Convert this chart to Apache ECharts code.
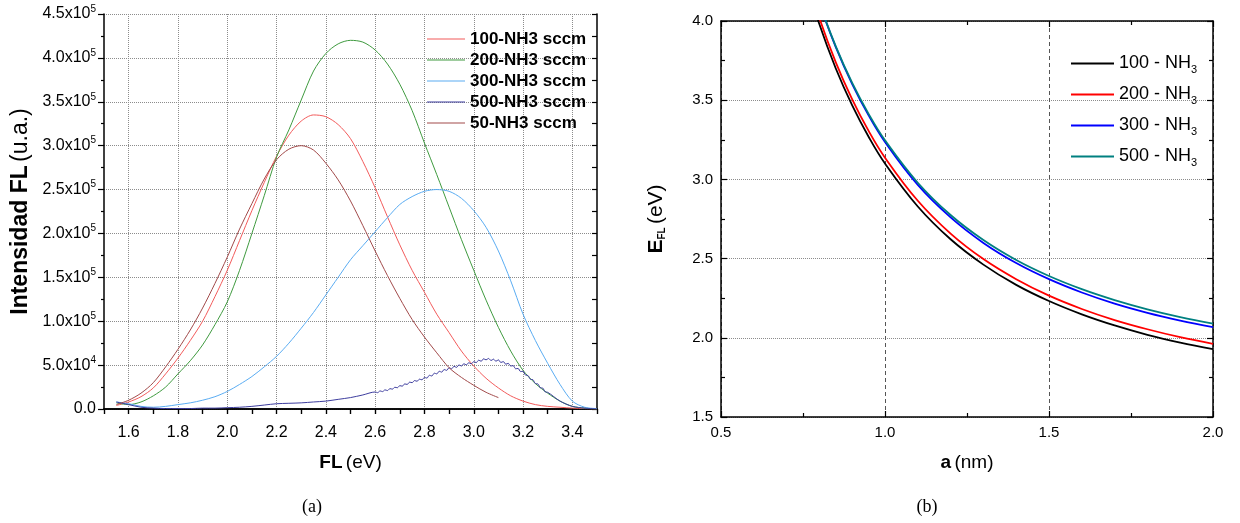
<!DOCTYPE html>
<html><head><meta charset="utf-8">
<script src="https://cdn.jsdelivr.net/npm/echarts@6/dist/echarts.min.js"></script>
<style>html,body{margin:0;padding:0;background:#fff}#c{width:1240px;height:523px}</style>
</head><body><div id="c"></div>
<script>
// ---------- (a) photoluminescence, intensity in units of 1e3 (u.a.) ----------
const flX = [1.55,1.60,1.65,1.70,1.75,1.80,1.85,1.90,1.95,2.00,2.05,2.10,2.15,2.20,2.25,2.30,2.35,2.40,2.45,2.50,2.55,2.60,2.65,2.70,2.75,2.80,2.85,2.90,2.95,3.00,3.05,3.10,3.15,3.20,3.25,3.30,3.35,3.40,3.45,3.50];
const fl100 = [4,8,14,24,40,58,78,100,128,158,192,226,258,288,312,328,335,333,324,308,282,252,219,187,158,133,108,87,66,49,35,24,15,9,5,3,2,1,0.5,0];
const fl200 = [7,5,8,15,25,40,55,73,96,122,158,200,243,287,318,352,385,405,416,420,418,409,393,370,340,303,267,230,193,158,124,93,66,44,29,18,9,3,1,0];
const fl300 = [8,6,3,2,3,5,7,10,14,20,28,37,48,60,75,92,110,130,150,170,186,202,218,233,242,248,250,248,240,226,207,180,146,108,78,52,28,9,2,0.5];
const fl50  = [5,10,18,30,48,68,90,115,143,173,205,234,262,284,296,300,295,280,261,237,209,180,152,126,102,82,64,47,36,27,19,13,null,null,null,null,null,null,null,null];
const fl500X = [1.55,1.60,1.65,1.70,1.75,1.80,1.85,1.90,1.95,2.00,2.05,2.10,2.15,2.20,2.25,2.30,2.35,2.40,2.45,2.50,2.55,
  2.60,2.61,2.62,2.63,2.64,2.65,2.66,2.67,2.68,2.69,2.70,2.71,2.72,2.73,2.74,2.75,2.76,2.77,2.78,2.79,
  2.80,2.81,2.82,2.83,2.84,2.85,2.86,2.87,2.88,2.89,2.90,2.91,2.92,2.93,2.94,2.95,2.96,2.97,2.98,2.99,
  3.00,3.01,3.02,3.03,3.04,3.05,3.06,3.07,3.08,3.09,3.10,3.11,3.12,3.13,3.14,3.15,3.16,3.17,3.18,3.19,
  3.20,3.21,3.22,3.23,3.24,3.25,3.26,3.27,3.28,3.29,3.30,3.35,3.40,3.45,3.50];
const fl500Y = [8,5,2,1,0.5,0.5,0.5,1,1,1.5,2,3,4.5,6,6.5,7,8,9,11,13,16,
  19.4,18.6,20.6,19.8,21.8,21.0,23.2,22.6,24.8,24.2,26.6,26.0,28.6,28.0,30.6,30.0,32.4,31.6,34.0,33.2,
  36.0,35.2,38.4,37.6,40.8,40.0,43.0,42.0,45.0,44.0,47.0,45.8,48.6,47.4,50.2,49.0,51.6,50.2,52.8,51.4,
  54.0,52.8,55.6,54.4,57.2,56.0,57.6,55.2,56.8,54.4,56.0,53.0,54.0,51.0,52.0,49.0,49.4,45.8,46.2,42.6,
  43.0,38.6,38.2,33.8,33.4,29.0,28.6,24.2,23.8,19.4,19.0,9,3,1,0];
const flNames = ['100-NH3 sccm','200-NH3 sccm','300-NH3 sccm','500-NH3 sccm','50-NH3 sccm'];
const flColors = ['#f25b5b','#3f9a3f','#5aacf2','#3d3d9e','#a24a4a'];

// ---------- (b) E_FL vs a ----------
const aX   = [0.75,0.80,0.85,0.90,0.95,1.00,1.10,1.20,1.30,1.40,1.50,1.60,1.70,1.80,1.90,2.00];
const e100 = [4.316,3.979,3.700,3.467,3.269,3.100,2.829,2.622,2.462,2.334,2.232,2.148,2.078,2.019,1.970,1.928];
const e200 = [4.356,4.018,3.739,3.505,3.306,3.137,2.865,2.658,2.497,2.370,2.266,2.182,2.112,2.054,2.004,1.962];
const e300 = [4.449,4.113,3.835,3.602,3.404,3.236,2.965,2.760,2.599,2.472,2.370,2.286,2.216,2.158,2.109,2.067];
const e500 = [4.447,4.115,3.840,3.609,3.414,3.247,2.979,2.775,2.617,2.491,2.390,2.307,2.238,2.180,2.131,2.090];
const eNames = ['100 - NH3','200 - NH3','300 - NH3','500 - NH3'];
const eColors = ['#000000','#ff0000','#0000ff','#008080'];

const FONT = '"Liberation Sans", Arial, sans-serif';
const pair = (xs, ys) => xs.map((x, i) => [x, ys[i]]).filter(p => p[1] !== null);

const chart = echarts.init(document.getElementById('c'), null, {renderer: 'canvas'});

const sciLabel = v => {
  if (v === 0) return '0.0';
  const val = v * 1000;
  const e = Math.floor(Math.log10(val) + 1e-9);
  const m = val / Math.pow(10, e);
  return m.toFixed(1) + 'x10{sup|' + e + '}';
};

const axLine = {lineStyle: {color: '#000', width: 1.5}};
const tickStyle = {color: '#000', width: 1.2};

const flData = [fl100, fl200, fl300, null, fl50];
const flSeries = flNames.map((n, i) => ({
  name: n, type: 'line', xAxisIndex: 0, yAxisIndex: 0, symbol: 'none', smooth: 0.3,
  lineStyle: {width: 1, color: flColors[i]}, itemStyle: {color: flColors[i]},
  data: i === 3 ? pair(fl500X, fl500Y) : pair(flX, flData[i]), z: 3
}));
const eData = [e100, e200, e300, e500];
const eSeries = eNames.map((n, i) => ({
  name: n, type: 'line', xAxisIndex: 2, yAxisIndex: 2, symbol: 'none', smooth: 0.4,
  lineStyle: {width: 1.8, color: eColors[i]}, itemStyle: {color: eColors[i]},
  data: pair(aX, eData[i]), z: 3 + i
}));

chart.setOption({
  animation: false,
  backgroundColor: '#fff',
  textStyle: {fontFamily: FONT},
  title: [
    {text: '(a)', left: 307, top: 493, textAlign: 'center',
     textStyle: {fontFamily: '"Liberation Serif", serif', fontSize: 18, fontWeight: 'normal', color: '#000'}},
    {text: '(b)', left: 922, top: 493, textAlign: 'center',
     textStyle: {fontFamily: '"Liberation Serif", serif', fontSize: 18, fontWeight: 'normal', color: '#000'}}
  ],
  grid: [
    {left: 104, top: 14, width: 493, height: 395, containLabel: false},
    {left: 721, top: 21, width: 492, height: 396, containLabel: false}
  ],
  legend: [
    {data: flNames, orient: 'vertical', left: 427, top: 30, padding: 0, icon: 'rect',
     itemWidth: 38, itemHeight: 1.2, itemGap: 3, selectedMode: false,
     textStyle: {fontFamily: FONT, fontSize: 17, fontWeight: 'bold', color: '#000', lineHeight: 18}},
    {data: eNames, orient: 'vertical', left: 1071, top: 52, padding: 0, icon: 'rect',
     itemWidth: 43, itemHeight: 2, itemGap: 8, selectedMode: false,
     formatter: n => '{n|' + n.slice(0, -1) + '}{s|3}',
     textStyle: {fontFamily: FONT, color: '#000',
       rich: {n: {fontSize: 18, fontFamily: FONT, lineHeight: 22, color: '#000'},
              s: {fontSize: 11, fontFamily: FONT, lineHeight: 22, padding: [12, 0, 0, 0], color: '#000'}}}}
  ],
  xAxis: [
    {gridIndex: 0, type: 'value', position: 'bottom', min: 1.5, max: 3.5, interval: 0.1,
     axisLine: axLine, axisTick: {show: true, inside: false, length: 5, lineStyle: tickStyle},
     axisLabel: {fontFamily: FONT, fontSize: 16, color: '#000', margin: 16,
       formatter: v => (Math.round(v * 10) % 2 === 0 ? v.toFixed(1) : '')},
     splitLine: {show: true, lineStyle: {type: 'dotted', color: ['rgba(0,0,0,0)', '#8c8c8c'], width: 1}},
     name: '{b|FL} {n|(eV)}', nameLocation: 'middle', nameGap: 44,
     nameTextStyle: {rich: {b: {fontFamily: FONT, fontSize: 19, fontWeight: 'bold', color: '#000'},
                            n: {fontFamily: FONT, fontSize: 19, color: '#000'}}}},
    {gridIndex: 0, type: 'value', position: 'top', min: 1.5, max: 3.5, interval: 0.1,
     axisLine: axLine, axisTick: {show: true, inside: true, length: 5, lineStyle: tickStyle},
     axisLabel: {show: false}, splitLine: {show: false}},
    {gridIndex: 1, type: 'value', position: 'bottom', min: 0.5, max: 2.0, interval: 0.5,
     axisLine: axLine, axisTick: {show: true, inside: true, length: 6, lineStyle: tickStyle},
     minorTick: {show: true, splitNumber: 2, length: 4, lineStyle: tickStyle},
     axisLabel: {fontFamily: FONT, fontSize: 15, color: '#000', margin: 8, formatter: v => v.toFixed(1)},
     splitLine: {show: true, lineStyle: {type: [4, 3], color: '#555', width: 1}},
     name: '{b|a} {n|(nm)}', nameLocation: 'middle', nameGap: 36,
     nameTextStyle: {rich: {b: {fontFamily: FONT, fontSize: 19, fontWeight: 'bold', color: '#000'},
                            n: {fontFamily: FONT, fontSize: 19, color: '#000'}}}},
    {gridIndex: 1, type: 'value', position: 'top', min: 0.5, max: 2.0, interval: 0.5,
     axisLine: axLine, axisTick: {show: true, inside: true, length: 6, lineStyle: tickStyle},
     minorTick: {show: true, splitNumber: 2, length: 4, lineStyle: tickStyle},
     axisLabel: {show: false}, splitLine: {show: false}}
  ],
  yAxis: [
    {gridIndex: 0, type: 'value', position: 'left', min: 0, max: 450, interval: 50,
     axisLine: axLine, axisTick: {show: true, inside: false, length: 6, lineStyle: tickStyle},
     minorTick: {show: true, splitNumber: 2, length: 3, lineStyle: tickStyle},
     axisLabel: {fontFamily: FONT, fontSize: 16, color: '#000', margin: 8, formatter: sciLabel,
       rich: {sup: {fontFamily: FONT, fontSize: 10, color: '#000', padding: [0, 0, 10, 0]}}},
     splitLine: {show: true, lineStyle: {type: 'dotted', color: '#8c8c8c', width: 1}},
     name: '{b|Intensidad FL} {n|(u.a.)}', nameLocation: 'middle', nameGap: 72,
     nameTextStyle: {rich: {b: {fontFamily: FONT, fontSize: 23, fontWeight: 'bold', color: '#000'},
                            n: {fontFamily: FONT, fontSize: 23, color: '#000'}}}},
    {gridIndex: 0, type: 'value', position: 'right', min: 0, max: 450, interval: 25,
     axisLine: axLine, axisTick: {show: true, inside: true, length: 5, lineStyle: tickStyle},
     axisLabel: {show: false}, splitLine: {show: false}},
    {gridIndex: 1, type: 'value', position: 'left', min: 1.5, max: 4.0, interval: 0.5,
     axisLine: axLine, axisTick: {show: true, inside: true, length: 6, lineStyle: tickStyle},
     minorTick: {show: true, splitNumber: 2, length: 4, lineStyle: tickStyle},
     axisLabel: {fontFamily: FONT, fontSize: 15, color: '#000', margin: 8, formatter: v => v.toFixed(1)},
     splitLine: {show: true, lineStyle: {type: 'dotted', color: '#8c8c8c', width: 1}},
     name: '{b|E}{s|FL} {n|(eV)}', nameLocation: 'middle', nameGap: 54,
     nameTextStyle: {rich: {b: {fontFamily: FONT, fontSize: 21, fontWeight: 'bold', color: '#000'},
                            s: {fontFamily: FONT, fontSize: 10, fontWeight: 'bold', color: '#000', padding: [12, 0, 0, 0]},
                            n: {fontFamily: FONT, fontSize: 21, color: '#000'}}}},
    {gridIndex: 1, type: 'value', position: 'right', min: 1.5, max: 4.0, interval: 0.5,
     axisLine: axLine, axisTick: {show: true, inside: true, length: 6, lineStyle: tickStyle},
     minorTick: {show: true, splitNumber: 2, length: 4, lineStyle: tickStyle},
     axisLabel: {show: false}, splitLine: {show: false}}
  ],
  series: flSeries.concat(eSeries)
});
</script>
</body></html>
